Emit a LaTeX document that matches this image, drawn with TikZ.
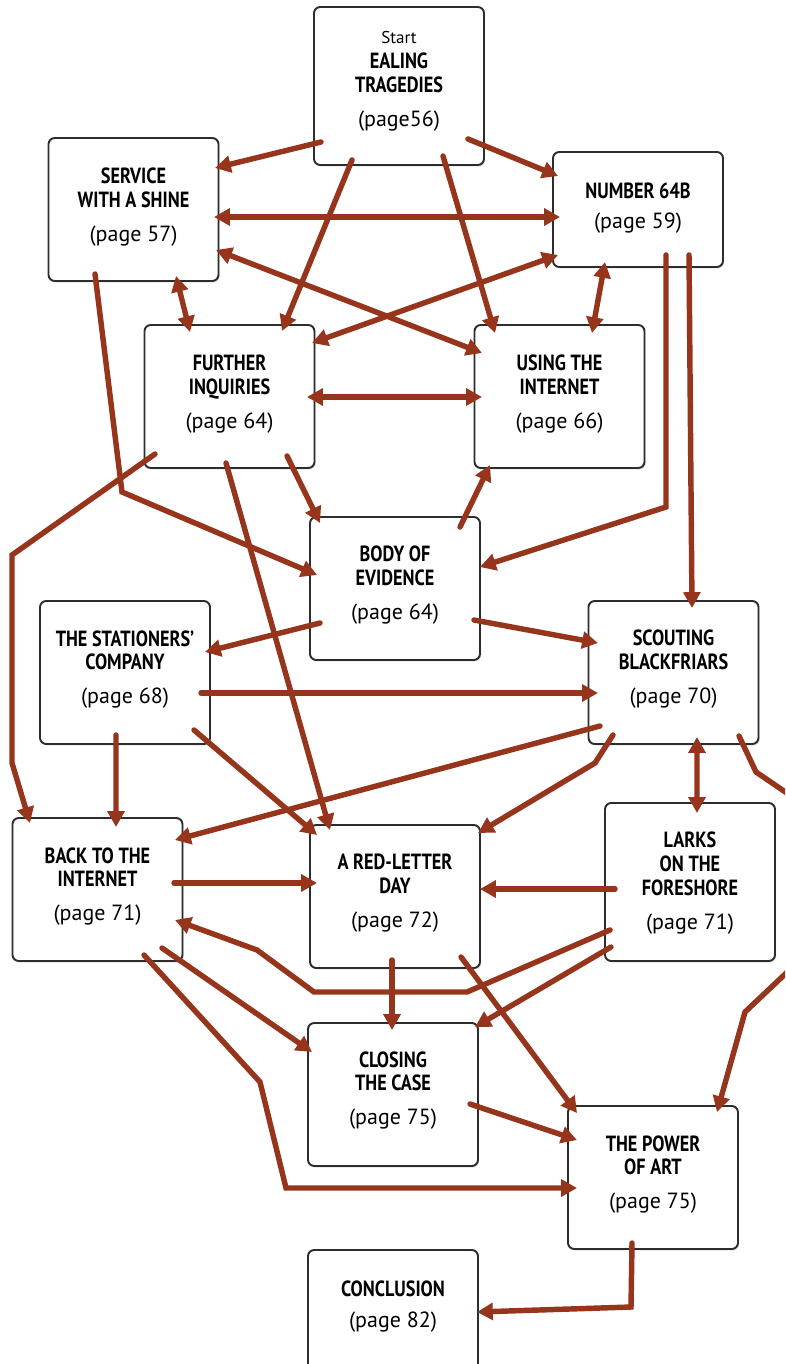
\documentclass[tikz,border=0pt]{standalone}
\usepackage{fontspec}
\setmainfont{PT Sans}[BoldFeatures={FakeStretch=0.83}]
\usetikzlibrary{arrows.meta,shadows}
\definecolor{arr}{RGB}{150,52,28}
\definecolor{bord}{RGB}{45,45,45}
\newcommand\ttlfont{\fontsize{12.5}{13.6}\selectfont\bfseries}
\newcommand\pg[1]{{\fontsize{12.5}{13.6}\selectfont\mdseries #1}}
\newcommand\stfont{\fontsize{9.7}{11}\selectfont\mdseries}
\begin{document}
\begin{tikzpicture}[x=0.02cm,y=-0.02cm,
  box/.style={draw=bord, line width=1.1pt, rounded corners=3.5pt, fill=white,
    minimum width=3.4cm, minimum height=2.86cm, inner sep=0pt,
    drop shadow={shadow xshift=0.7pt, shadow yshift=-0.9pt, opacity=0.22}},
  txt/.style={align=center, font=\ttlfont, inner sep=0pt},
  con/.style={draw=arr, line width=3.1pt, line cap=round, -{Triangle[length=9pt,width=9.5pt]}},
  bicon/.style={con, {Triangle[length=9pt,width=9.5pt]}-{Triangle[length=9pt,width=9.5pt]}}]
\useasboundingbox (0,0) rectangle (785,1364);
\clip (0,0) rectangle (785,1364);
% boxes
\node[box, minimum height=3.16cm] (E) at (399,86) {};
\node[box] (S) at (133.5,209.5) {};
\node[box, minimum height=2.3cm] (N) at (638,209.5) {};
\node[box] (F) at (229.5,396.5) {};
\node[box] (U) at (559.5,396.5) {};
\node[box] (B) at (395,588.5) {};
\node[box] (T) at (125,672.5) {};
\node[box] (K) at (673.5,672.5) {};
\node[box] (A) at (97.5,889.5) {};
\node[box] (R) at (395,896.5) {};
\node[box, minimum height=3.16cm] (L) at (690,882) {};
\node[box] (C) at (393,1094.5) {};
\node[box] (P) at (653,1177.5) {};
\node[box] (Z) at (393,1321.5) {};
% texts
\node[txt] (Et) at (399,81) {{\stfont Start}\\[0.6pt]EALING\\TRAGEDIES\\[5.7pt]\pg{(page56)}};
\node[txt] (St) at (133.5,207) {SERVICE\\WITH A SHINE\\[5.7pt]\pg{(page 57)}};
\node[txt] (Nt) at (638,208) {NUMBER 64B\\[3.5pt]\pg{(page 59)}};
\node[txt] (Ft) at (229.5,394) {FURTHER\\INQUIRIES\\[5.7pt]\pg{(page 64)}};
\node[txt] (Ut) at (559.5,394) {USING THE\\INTERNET\\[5.7pt]\pg{(page 66)}};
\node[txt] (Bt) at (395,585) {BODY OF\\EVIDENCE\\[5.7pt]\pg{(page 64)}};
\node[txt] (Tt) at (125,669.5) {THE STATIONERS'\\COMPANY\\[5.7pt]\pg{(page 68)}};
\node[txt] (Kt) at (673.5,669) {SCOUTING\\BLACKFRIARS\\[5.7pt]\pg{(page 70)}};
\node[txt] (At) at (97.5,886.5) {BACK TO THE\\INTERNET\\[5.7pt]\pg{(page 71)}};
\node[txt] (Rt) at (395,893.5) {A RED-LETTER\\DAY\\[5.7pt]\pg{(page 72)}};
\node[txt] (Lt) at (690,883) {LARKS\\ON THE\\FORESHORE\\[5.7pt]\pg{(page 71)}};
\node[txt] (Ct) at (393,1090.5) {CLOSING\\THE CASE\\[5.7pt]\pg{(page 75)}};
\node[txt] (Pt) at (653,1174.5) {THE POWER\\OF ART\\[5.7pt]\pg{(page 75)}};
\node[txt] (Zt) at (393,1307) {CONCLUSION\\[4pt]\pg{(page 82)}};
% connectors
\draw[con] ([shift={(-78,56)}]E.center) -- ([shift={(81.5,-41.5)}]S.center);
\draw[con] ([shift={(69,53)}]E.center) -- ([shift={(-80,-33.5)}]N.center);
\draw[con] ([shift={(-47,74)}]E.center) -- ([shift={(52.5,-65.5)}]F.center);
\draw[con] ([shift={(44,70)}]E.center) -- ([shift={(-64.5,-63.5)}]U.center);
\draw[bicon] ([shift={(80.5,7.5)}]S.center) -- ([shift={(-78,7.5)}]N.center);
\draw[bicon] ([shift={(82.5,40.5)}]S.center) -- ([shift={(-77.5,-43.5)}]U.center);
\draw[bicon] ([shift={(-80,45.5)}]N.center) -- ([shift={(82.5,-53.5)}]F.center);
\draw[bicon] ([shift={(42.5,66.5)}]S.center) -- ([shift={(-39.5,-64.5)}]F.center);
\draw[bicon] ([shift={(-33,52.5)}]N.center) -- ([shift={(32.5,-63.5)}]U.center);
\draw[con] ([shift={(-38.5,64.5)}]S.center) -- (122,492) -- ([shift={(-78,-13.5)}]B.center);
\draw[con] ([shift={(28,45.5)}]N.center) -- (666,507) -- ([shift={(85,-21.5)}]B.center);
\draw[con] ([shift={(51,45.5)}]N.center) -- ([shift={(18.5,-64.5)}]K.center);
\draw[bicon] ([shift={(77.5,0.5)}]F.center) -- ([shift={(-77.5,0.5)}]U.center);
\draw[con] ([shift={(-74.5,57.5)}]F.center) -- (12,555) -- (12,763) -- ([shift={(-67.5,-66.5)}]A.center);
\draw[con] ([shift={(57.5,59.5)}]F.center) -- ([shift={(-75,-65.5)}]B.center);
\draw[con] ([shift={(-3.5,66.5)}]F.center) -- ([shift={(-65,-66.5)}]R.center);
\draw[con] ([shift={(65,-61.5)}]B.center) -- ([shift={(-69.5,68.5)}]U.center);
\draw[con] ([shift={(-75,34.5)}]B.center) -- ([shift={(80,-20.5)}]T.center);
\draw[con] ([shift={(79,31.5)}]B.center) -- ([shift={(-75.5,-29.5)}]K.center);
\draw[con] ([shift={(76,20.5)}]T.center) -- ([shift={(-75.5,20.5)}]K.center);
\draw[con] ([shift={(-9,62.5)}]T.center) -- ([shift={(18.5,-62.5)}]A.center);
\draw[con] ([shift={(69,57.5)}]T.center) -- ([shift={(-78,-61.5)}]R.center);
\draw[con] ([shift={(-73.5,53.5)}]K.center) -- ([shift={(77.5,-49.5)}]A.center);
\draw[con] ([shift={(-60.5,62.5)}]K.center) -- (595,763) -- ([shift={(83,-63.5)}]R.center);
\draw[bicon] ([shift={(23.5,64.5)}]K.center) -- ([shift={(7,-69)}]L.center);
\draw[con] ([shift={(65.5,63.5)}]K.center) -- (756,772) -- (800,802) -- (800,960) -- (745,1012) -- ([shift={(64,-65.5)}]P.center);
\draw[con] ([shift={(76.5,-6.5)}]A.center) -- ([shift={(-78,-13.5)}]R.center);
\draw[con] ([shift={(-75,7)}]L.center) -- ([shift={(85,-7.5)}]R.center);
\draw[con] ([shift={(-80,48)}]L.center) -- (467,992) -- (314,992) -- (257,950) -- ([shift={(77.5,30.5)}]A.center);
\draw[con] ([shift={(-79,65)}]L.center) -- ([shift={(82,-67.5)}]C.center);
\draw[con] ([shift={(64.5,58.5)}]A.center) -- ([shift={(-81,-42.5)}]C.center);
\draw[con] ([shift={(46.5,65.5)}]A.center) -- (260,1082) -- (286,1188) -- ([shift={(-76,10.5)}]P.center);
\draw[con] ([shift={(-3,63.5)}]R.center) -- ([shift={(-1,-64.5)}]C.center);
\draw[con] ([shift={(66,60.5)}]R.center) -- ([shift={(-76,-64.5)}]P.center);
\draw[con] ([shift={(77,9.5)}]C.center) -- ([shift={(-76,-37.5)}]P.center);
\draw[con] ([shift={(-21,65.5)}]P.center) -- (631,1307) -- ([shift={(84,-9.5)}]Z.center);
\end{tikzpicture}
\end{document}
